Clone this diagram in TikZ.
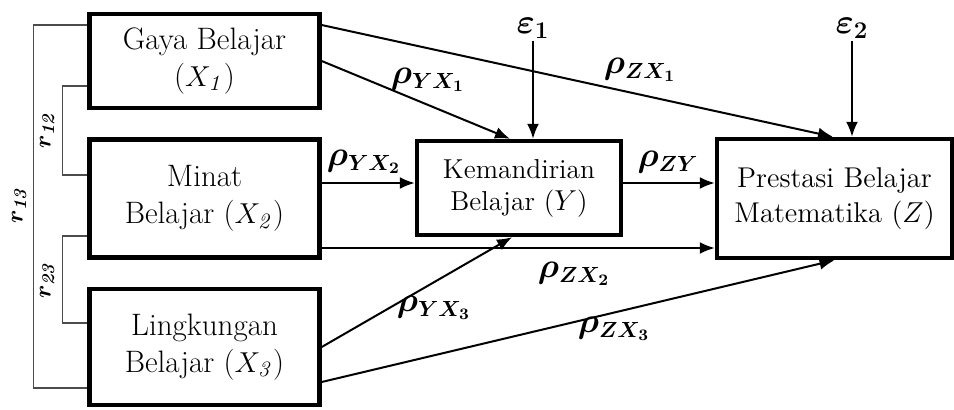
\documentclass[tikz,border=0pt]{standalone}
\usepackage{bm}
\usetikzlibrary{arrows.meta}

\begin{document}
\begin{tikzpicture}[x=.5pt,y=-.5pt,>={Latex[length=7.5pt,width=6pt]},
  var/.style={draw,line width=2.2pt,align=center,inner sep=0pt,font=\fontsize{15.5}{18.5}\selectfont},
  path/.style={->,line width=1pt},
  corr/.style={black!70,line width=.6pt},
  lab/.style={font=\fontsize{16}{18}\selectfont,inner sep=1pt},
  rlab/.style={rotate=90,font=\fontsize{13}{15}\selectfont,inner sep=1pt}]
  \useasboundingbox (0,0) rectangle (954,409);

  % variables
  \node[var,minimum width=115pt,minimum height=47pt] (x1) at (204.5,61) {Gaya Belajar\\($X_{\mathit{1}}$)};
  \node[var,minimum width=115pt,minimum height=59pt] (x2) at (204.5,198.5) {Minat\\Belajar ($X_{\mathit{2}}$)};
  \node[var,minimum width=115pt,minimum height=58pt] (x3) at (204.5,347) {Lingkungan\\Belajar ($X_{\mathit{3}}$)};
  \node[var,minimum width=102pt,minimum height=47pt,font=\fontsize{13.7}{16}\selectfont] (y) at (519,188) {Kemandirian\\Belajar ($Y$)};
  \node[var,minimum width=117.5pt,minimum height=59.5pt,font=\fontsize{14.3}{17.5}\selectfont] (z) at (834.5,198.5) {Prestasi Belajar\\Matematika ($Z$)};

  % errors
  \node[lab,font=\fontsize{17}{19}\selectfont] (e1) at (533,28) {$\bm{\varepsilon_1}$};
  \node[lab,font=\fontsize{17}{19}\selectfont] (e2) at (852,28) {$\bm{\varepsilon_2}$};
  \draw[path] (e1.south) -- ([xshift=7pt]y.north);
  \draw[path] (e2.south) -- ([xshift=8.75pt]z.north);

  % paths
  \draw[path] (x1.east) -- ([xshift=-4.5pt]y.north);
  \draw[path] ([yshift=18pt]x1.east) -- ([xshift=-.75pt]z.north);
  \draw[path] ([yshift=7.75pt]x2.east) -- ([yshift=2.5pt]y.west);
  \draw[path] ([yshift=2.5pt]y.east) -- ([yshift=7.75pt]z.west);
  \draw[path] ([yshift=-24.75pt]x2.east) -- ([yshift=-24.75pt]z.west);
  \draw[path] (x3.east) -- ([xshift=-3.5pt]y.south);
  \draw[path] ([yshift=-17.5pt]x3.east) -- (z.south);

  \node[lab] (pyx1) at (428,80) {$\bm{\rho_{YX_1}}$};
  \node[lab] (pzx1) at (640,70) {$\bm{\rho_{ZX_1}}$};
  \node[lab] (pyx2) at (364,162) {$\bm{\rho_{YX_2}}$};
  \node[lab] (pzy) at (668,162) {$\bm{\rho_{ZY}}$};
  \node[lab] (pzx2) at (574,274) {$\bm{\rho_{ZX_2}}$};
  \node[lab] (pyx3) at (434,308) {$\bm{\rho_{YX_3}}$};
  \node[lab] (pzx3) at (614,329) {$\bm{\rho_{ZX_3}}$};

  % correlations
  \draw[corr] ([yshift=18pt]x1.west) -- ++(-54,0) |- ([yshift=-20.5pt]x3.west);
  \draw[corr] ([yshift=-12.5pt]x1.west) -- ++(-25,0) |- ([yshift=11.75pt]x2.west);
  \draw[corr] ([yshift=-18.75pt]x2.west) -- ++(-25,0) |- ([yshift=12pt]x3.west);
  \node[rlab] (r13) at (19,205) {$\bm{r_{\mathit{13}}}$};
  \node[rlab] (r12) at (47,130) {$\bm{r_{\mathit{12}}}$};
  \node[rlab] (r23) at (47,280) {$\bm{r_{\mathit{23}}}$};
\end{tikzpicture}
\end{document}
